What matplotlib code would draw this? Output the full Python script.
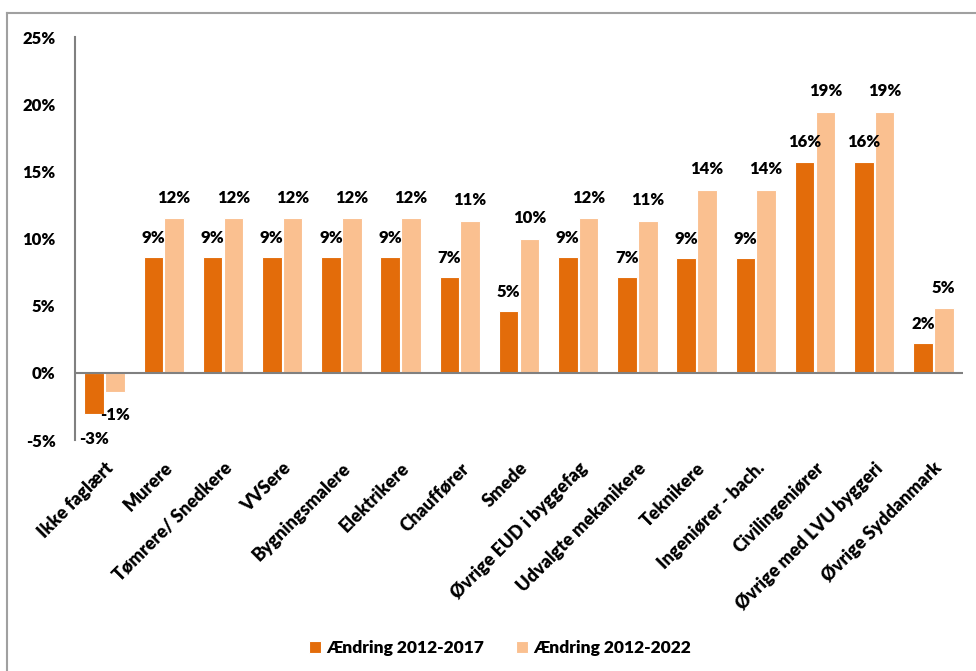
import matplotlib.pyplot as plt
import numpy as np
from matplotlib.lines import Line2D

plt.rcParams['font.family'] = ['Lato', 'DejaVu Sans']
plt.rcParams['font.weight'] = 'heavy'

kategorier = ["Ikke faglært", "Murere", "Tømrere/ Snedkere", "VVSere", "Bygningsmalere",
              "Elektrikere", "Chauffører", "Smede", "Øvrige EUD i byggefag",
              "Udvalgte mekanikere", "Teknikere", "Ingeniører - bach.", "Civilingeniører",
              "Øvrige med LVU byggeri", "Øvrige Syddanmark"]
aendring_2017 = [-3.1, 8.6, 8.6, 8.6, 8.6, 8.6, 7.1, 4.6, 8.6, 7.1, 8.55, 8.55, 15.7, 15.7, 2.2]
aendring_2022 = [-1.4, 11.5, 11.5, 11.5, 11.5, 11.5, 11.3, 10.0, 11.5, 11.3, 13.6, 13.6, 19.4, 19.4, 4.8]

moerk = "#E36C0A"
lys = "#FAC090"

fig = plt.figure(figsize=(9.76, 6.71), dpi=100)
ax = fig.add_axes([75/976, (671-440)/671, (963-75)/976, (440-37)/671])

x = np.arange(len(kategorier))
b = 0.33
ax.bar(x - b/2 - 0.01, aendring_2017, width=b, color=moerk, edgecolor="white", linewidth=0.8,
       label="Ændring 2012-2017")
ax.bar(x + b/2 + 0.01, aendring_2022, width=b, color=lys, edgecolor="white", linewidth=0.8,
       label="Ændring 2012-2022")

# dataetiketter
for xi, v in zip(x, aendring_2017):
    ax.annotate(f"{v:.0f}%", (xi - b/2 - 0.01, v), xytext=(0, 14 if v >= 0 else -18),
                textcoords="offset points", ha="center", va="center", fontsize=12)
for xi, v in zip(x, aendring_2022):
    ax.annotate(f"{v:.0f}%", (xi + b/2 + 0.01, v), xytext=(0, 15 if v >= 0 else -17),
                textcoords="offset points", ha="center", va="center", fontsize=12)

ax.set_xlim(-0.5, len(kategorier) - 0.5)
ax.set_ylim(-5, 25)
ax.set_yticks(range(-5, 26, 5))
ax.set_yticklabels([f"{t}%" for t in range(-5, 26, 5)], fontsize=12)
ax.tick_params(axis="y", length=0, pad=14)
ax.tick_params(axis="x", length=0, pad=14)
ax.set_xticks(x)
ax.set_xticklabels(kategorier, rotation=45, ha="right", rotation_mode="anchor", fontsize=13)

for s in ["top", "right", "bottom"]:
    ax.spines[s].set_visible(False)
ax.spines["left"].set_color("#808080")
ax.spines["left"].set_linewidth(1.5)
ax.axhline(0, color="#808080", linewidth=1.5)

ax.legend(loc="center", bbox_to_anchor=(500/976, (671-648)/671), bbox_transform=fig.transFigure,
          ncol=2, frameon=False, fontsize=12.5, handlelength=0.7, handleheight=0.7,
          handletextpad=0.3, columnspacing=1.8)

# ramme
fig.add_artist(Line2D([7/976, 7/976], [0, (671-13)/671], color="#A0A0A0", linewidth=1.5))
fig.add_artist(Line2D([7/976, 1], [(671-13)/671, (671-13)/671], color="#A0A0A0", linewidth=1.5))

fig.savefig("out.png", dpi=100)
